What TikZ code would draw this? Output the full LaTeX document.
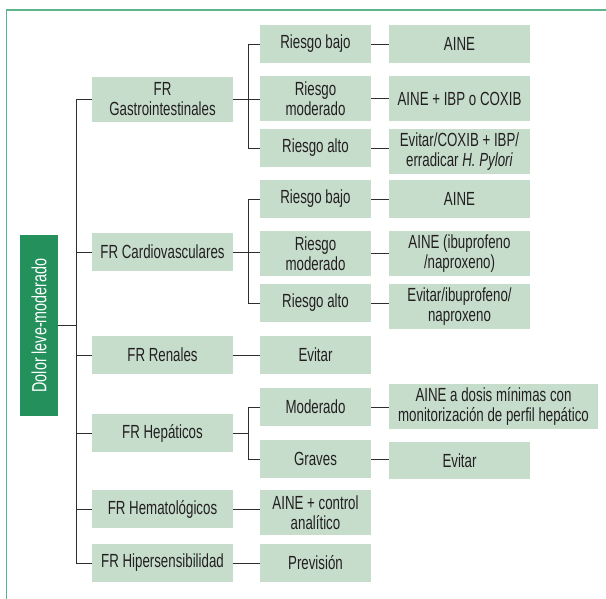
\documentclass[tikz,border=0pt]{standalone}
\usepackage{fontspec}
\setmainfont{Liberation Sans}[FakeStretch=0.70]
\begin{document}
\begin{tikzpicture}[x=1pt,y=-1pt,
  box/.style={fill=boxc, inner sep=0pt, align=center, text=txt,
    font=\fontsize{19}{20}\selectfont},
  lnk/.style={draw=lnc, line width=0.9pt},
  frame/.style={draw=frc, line width=1.6pt}]
\definecolor{boxc}{HTML}{C6DDCC}
\definecolor{dark}{HTML}{24905B}
\definecolor{txt}{HTML}{231F20}
\definecolor{lnc}{HTML}{2E2E2E}
\definecolor{frc}{HTML}{5CB68B}
\useasboundingbox (0,0) rectangle (606,599);
% frame (top and left)
\draw[frame] (606,10) -- (6.5,10) -- (6.5,599);
% root
\node[fill=dark, inner sep=0pt, minimum width=38pt, minimum height=181pt] (dolor) at (39,325.5) {};
\node[rotate=90, text=white, font=\fontsize{20.5}{21}\selectfont] (dolortxt) at (dolor.center) {Dolor leve-moderado};
% FR column
\node[box, minimum width=141pt, minimum height=45pt] (gi) at (162.5,99.5) {FR\\Gastrointestinales};
\node[box, minimum width=141pt, minimum height=38pt] (cv) at (162.5,252) {FR Cardiovasculares};
\node[box, minimum width=141pt, minimum height=38pt] (ren) at (162.5,355) {FR Renales};
\node[box, minimum width=141pt, minimum height=38pt] (hep) at (162.5,433) {FR Hepáticos};
\node[box, minimum width=141pt, minimum height=38pt] (hem) at (162.5,509) {FR Hematológicos};
\node[box, minimum width=141pt, minimum height=38pt] (hip) at (162.5,563) {FR Hipersensibilidad};
% middle column
\node[box, minimum width=111pt, minimum height=38pt] (g1) at (315.5,44) {Riesgo bajo};
\node[box, minimum width=111pt, minimum height=45pt] (g2) at (315.5,98.5) {Riesgo\\moderado};
\node[box, minimum width=111pt, minimum height=38pt] (g3) at (315.5,148) {Riesgo alto};
\node[box, minimum width=111pt, minimum height=38pt] (c1) at (315.5,199) {Riesgo bajo};
\node[box, minimum width=111pt, minimum height=45pt] (c2) at (315.5,253.5) {Riesgo\\moderado};
\node[box, minimum width=111pt, minimum height=38pt] (c3) at (315.5,303) {Riesgo alto};
\node[box, minimum width=111pt, minimum height=38pt] (re) at (315.5,355) {Evitar};
\node[box, minimum width=111pt, minimum height=38pt] (hm) at (315.5,407) {Moderado};
\node[box, minimum width=111pt, minimum height=38pt] (hg) at (315.5,459) {Graves};
\node[box, minimum width=111pt, minimum height=45pt] (ha) at (315.5,512.5) {AINE + control\\analítico};
\node[box, minimum width=111pt, minimum height=38pt] (hp) at (315.5,563) {Previsión};
% right column
\node[box, minimum width=141pt, minimum height=38pt] (a1) at (459.5,44) {AINE};
\node[box, minimum width=141pt, minimum height=45pt] (a2) at (459.5,98.5) {AINE + IBP o COXIB};
\node[box, minimum width=141pt, minimum height=45pt] (a3) at (459.5,151.5) {Evitar/COXIB + IBP/\\erradicar \textit{H. Pylori}};
\node[box, minimum width=141pt, minimum height=38pt] (a4) at (459.5,199) {AINE};
\node[box, minimum width=141pt, minimum height=45pt] (a5) at (459.5,253.5) {AINE (ibuprofeno\\/naproxeno)};
\node[box, minimum width=141pt, minimum height=45pt] (a6) at (459.5,306.5) {Evitar/ibuprofeno/\\naproxeno};
\node[box, minimum width=209pt, minimum height=45pt] (a7) at (493.5,406.5) {AINE a dosis mínimas con\\monitorización de perfil hepático};
\node[box, minimum width=141pt, minimum height=37pt] (a8) at (459.5,460.5) {Evitar};
% helper coordinates
\coordinate (mx) at (76,0);
\coordinate (bx) at (248,0);
% main tree
\draw[lnk] (gi.west) -- (gi.west -| mx) -- (hip.west -| mx) -- (hip.west);
\draw[lnk] (dolor.east) -- (dolor.east -| mx);
\draw[lnk] (cv.west -| mx) -- (cv.west);
\draw[lnk] (ren.west -| mx) -- (ren.west);
\draw[lnk] (hep.west -| mx) -- (hep.west);
\draw[lnk] (hem.west -| mx) -- (hem.west);
% GI bracket
\draw[lnk] (g1.west) -- (g1.west -| bx) -- (g3.west -| bx) -- (g3.west);
\draw[lnk] (gi.east) -- (gi.east -| g2.west);
% CV bracket
\draw[lnk] (c1.west) -- (c1.west -| bx) -- (c3.west -| bx) -- (c3.west);
\draw[lnk] (cv.east) -- (cv.east -| c2.west);
% Hep bracket
\draw[lnk] (hm.west) -- (hm.west -| bx) -- (hg.west -| bx) -- (hg.west);
\draw[lnk] (hep.east) -- (hep.east -| bx);
% single links
\draw[lnk] (ren.east) -- (re.west);
\draw[lnk] (hem.east) -- (hem.east -| ha.west);
\draw[lnk] (hip.east) -- (hp.west);
% right links
\draw[lnk] (g1.east) -- (a1.west);
\draw[lnk] (g2.east) -- (a2.west);
\draw[lnk] (g3.east) -- (g3.east -| a3.west);
\draw[lnk] (c1.east) -- (a4.west);
\draw[lnk] (c2.east) -- (a5.west);
\draw[lnk] (c3.east) -- (c3.east -| a6.west);
\draw[lnk] (hm.east) -- (hm.east -| a7.west);
\draw[lnk] (hg.east) -- (hg.east -| a8.west);
\end{tikzpicture}
\end{document}
